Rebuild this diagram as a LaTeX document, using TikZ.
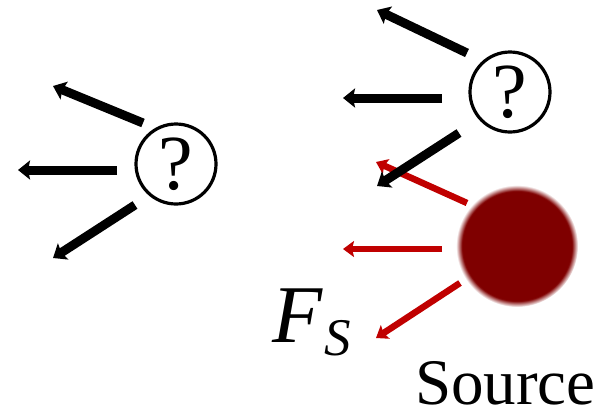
\documentclass[tikz,border=0pt]{standalone}
\usepackage{fontspec}
\setmainfont{Liberation Serif}
\usetikzlibrary{arrows.meta}
\definecolor{ballred}{HTML}{7F0000}
\definecolor{arrred}{HTML}{C00000}
\pgfdeclareradialshading{ballshade}{\pgfpoint{0bp}{0bp}}{color(0bp)=(ballred); color(22.5bp)=(ballred); color(25bp)=(white); color(50bp)=(white)}
\tikzset{
  qcircle/.style={circle, draw=black, line width=3.2pt, minimum size=80pt, inner sep=0pt, font=\fontsize{78}{78}\selectfont},
  blackarrow/.style={draw=black, line width=9pt, -{Stealth[length=12pt,width=19pt,inset=2pt]}},
  redarrow/.style={draw=arrred, line width=6.5pt, -{Stealth[length=11pt,width=16pt,inset=2pt]}},
}
\begin{document}
\begin{tikzpicture}[x=1pt,y=-1pt]
\useasboundingbox (0,0) rectangle (604,413);
% left question circle
\node[qcircle] (q1) at (176,164) {?};
\coordinate (l1s) at (143,123); \coordinate (l1e) at (53,86);
\coordinate (l2s) at (117,170); \coordinate (l2e) at (18,170);
\coordinate (l3s) at (135,205); \coordinate (l3e) at (53,258);
\draw[blackarrow] (l1s) -- (l1e);
\draw[blackarrow] (l2s) -- (l2e);
\draw[blackarrow] (l3s) -- (l3e);
% right question circle
\node[qcircle] (q2) at (510,92) {?};
% source ball
\shade[shading=ballshade] (517,246) circle[radius=61];
\node[circle, minimum size=116pt, inner sep=0pt] (src) at (517,246) {};
\coordinate (s1s) at (467,203); \coordinate (s1e) at (376,162);
\coordinate (s2s) at (442,249); \coordinate (s2e) at (343,249);
\coordinate (s3s) at (460,283); \coordinate (s3e) at (376,338);
\draw[redarrow] (s1s) -- (s1e);
\draw[redarrow] (s2s) -- (s2e);
\draw[redarrow] (s3s) -- (s3e);
\coordinate (r1s) at (467,53); \coordinate (r1e) at (377,10);
\coordinate (r2s) at (442,98); \coordinate (r2e) at (343,98);
\coordinate (r3s) at (459,133); \coordinate (r3e) at (377,186);
\draw[blackarrow] (r1s) -- (r1e);
\draw[blackarrow] (r2s) -- (r2e);
\draw[blackarrow] (r3s) -- (r3e);
% labels
\node[anchor=base west, inner sep=0pt] (fs) at (272,342) {\fontsize{82}{82}\selectfont\itshape F};
\node[anchor=base west, inner sep=0pt] (fss) at (324,355) {\fontsize{53}{53}\selectfont\itshape S};
\node[anchor=base west, inner sep=0pt] (srclab) at (415,404) {\fontsize{65}{65}\selectfont Source};
\end{tikzpicture}
\end{document}
